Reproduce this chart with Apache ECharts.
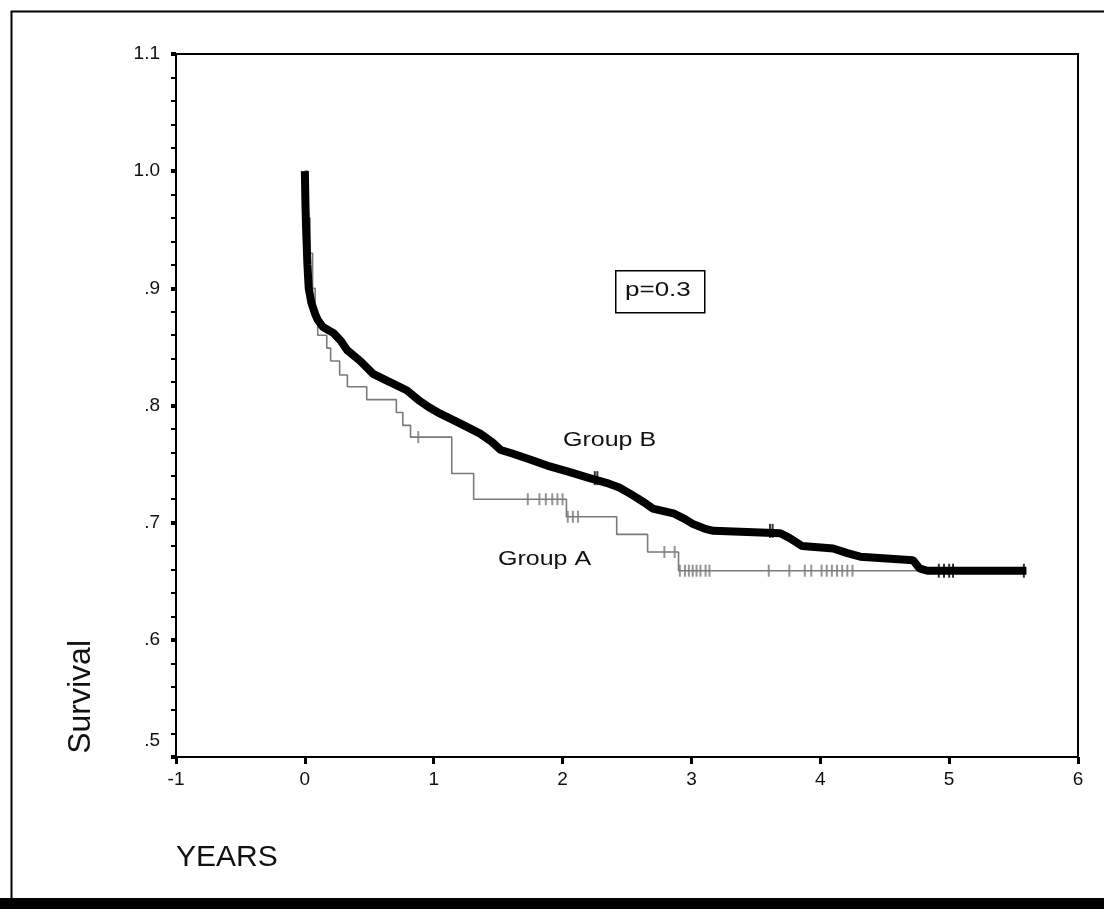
<!DOCTYPE html>
<html>
<head>
<meta charset="utf-8">
<title>Survival</title>
<script src="https://cdn.jsdelivr.net/npm/echarts@6/dist/echarts.min.js"></script>
<style>
  html, body { margin: 0; padding: 0; background: #fff; }
  #main { width: 1104px; height: 909px; }
</style>
</head>
<body>
<div id="main"></div>
<script>
// Group A: thin grey step curve (time in years, survival)
var timeA = [0, 0.02, 0.04, 0.06, 0.08, 0.10, 0.17, 0.20, 0.27, 0.33, 0.48, 0.71, 0.76, 0.82, 1.14, 1.31, 2.03, 2.42, 2.66, 2.90, 4.78];
var survA = [1.0, 0.96, 0.93, 0.90, 0.88, 0.860, 0.849, 0.838, 0.826, 0.816, 0.805, 0.794, 0.783, 0.773, 0.742, 0.720, 0.705, 0.690, 0.675, 0.659, 0.659];
// censored cases, group A
var censorA = [0.88, 1.73, 1.82, 1.87, 1.92, 1.96, 2.00, 2.04, 2.08, 2.12, 2.79, 2.87,
               2.91, 2.95, 2.98, 3.01, 3.04, 3.07, 3.11, 3.14, 3.60, 3.76, 3.88, 3.93,
               4.01, 4.05, 4.09, 4.13, 4.17, 4.21, 4.25];

// Group B: thick black curve (dense steps + censor marks, drawn as a band)
var timeB = [0, 0.005, 0.01, 0.02, 0.03, 0.05, 0.08, 0.10, 0.14, 0.22, 0.28, 0.33, 0.43, 0.53, 0.64, 0.79, 0.89, 0.97,
             1.05, 1.20, 1.36, 1.45, 1.52, 1.61, 1.77, 1.90, 2.03, 2.21, 2.34, 2.44, 2.52, 2.58, 2.65, 2.70, 2.86,
             2.95, 3.01, 3.10, 3.17, 3.69, 3.76, 3.86, 4.10, 4.21, 4.31, 4.72, 4.77, 4.83, 5.60];
var survB = [1.0, 0.97, 0.95, 0.92, 0.90, 0.888, 0.878, 0.873, 0.867, 0.862, 0.855, 0.847, 0.838, 0.827, 0.821, 0.813, 0.804, 0.798,
             0.793, 0.785, 0.776, 0.769, 0.762, 0.759, 0.753, 0.748, 0.744, 0.738, 0.734, 0.730, 0.725, 0.721, 0.716, 0.712, 0.708,
             0.703, 0.699, 0.695, 0.693, 0.691, 0.687, 0.680, 0.678, 0.674, 0.671, 0.668, 0.661, 0.659, 0.659];
var censorB = [2.25, 2.27, 3.61, 3.63, 4.92, 4.96, 5.00, 5.03, 5.58];

function pairs(t, s) {
  var out = [];
  for (var i = 0; i < t.length; i++) out.push([t[i], s[i]]);
  return out;
}
// survival value of a step curve at time x
function stepAt(t, s, x) {
  var v = s[0];
  for (var i = 0; i < t.length; i++) {
    if (t[i] <= x) v = s[i];
  }
  return v;
}
function censorPts(times, t, s) {
  var out = [];
  for (var i = 0; i < times.length; i++) out.push([times[i], stepAt(t, s, times[i])]);
  return out;
}

var myChart = echarts.init(document.getElementById('main'));
var font = 'Liberation Sans, Arial, sans-serif';

myChart.setOption({
  animation: false,
  backgroundColor: '#fff',
  grid: {
    left: 176, right: 26, top: 54, bottom: 152,
    show: true, borderColor: '#000', borderWidth: 2
  },
  xAxis: {
    type: 'value',
    min: -1, max: 6, interval: 1,
    axisLine: { onZero: false, lineStyle: { color: '#000', width: 2 } },
    axisTick: { length: 7, lineStyle: { color: '#000', width: 3 } },
    axisLabel: { color: '#111', fontSize: 19, fontFamily: font, margin: 13 },
    splitLine: { show: false }
  },
  yAxis: {
    type: 'value',
    min: 0.5, max: 1.1, interval: 0.1,
    axisLine: { show: true, onZero: false, lineStyle: { color: '#000', width: 2 } },
    axisTick: { show: true, length: 5, lineStyle: { color: '#000', width: 4 } },
    minorTick: { show: true, splitNumber: 5, length: 5, lineStyle: { color: '#000', width: 2 } },
    axisLabel: {
      color: '#111', fontSize: 19, fontFamily: font, margin: 16,
      formatter: function (v) {
        var s = v.toFixed(1);
        if (v < 0.55) return '{lo|' + s.slice(1) + '}';
        return v < 1 ? s.slice(1) : s;
      },
      rich: {
        lo: { fontSize: 19, fontFamily: font, color: '#111', padding: [0, 0, 32, 0] }
      }
    },
    splitLine: { show: false }
  },
  series: [
    {
      name: 'Group A',
      type: 'line',
      step: 'end',
      data: pairs(timeA, survA),
      symbol: 'none',
      lineStyle: { color: '#7a7a7a', width: 1.6 },
      z: 3
    },
    {
      name: 'Group A censored',
      type: 'scatter',
      data: censorPts(censorA, timeA, survA),
      symbol: 'rect',
      symbolSize: [2, 12],
      itemStyle: { color: '#7a7a7a' },
      z: 3
    },
    {
      name: 'Group B',
      type: 'line',
      data: pairs(timeB, survB),
      symbol: 'none',
      lineStyle: { color: '#000', width: 8 },
      z: 4
    },
    {
      name: 'Group B censored',
      type: 'scatter',
      data: censorPts(censorB, timeB, survB),
      symbol: 'rect',
      symbolSize: [2, 14],
      itemStyle: { color: '#000' },
      z: 4
    }
  ],
  graphic: [
    { type: 'rect', left: 9, top: 9, shape: { width: 1110, height: 888 }, style: { fill: 'none', stroke: '#000', lineWidth: 2 }, silent: true },
    { type: 'rect', left: 0, top: 898, shape: { width: 1104, height: 11 }, style: { fill: '#000' }, silent: true },
    { type: 'rect', left: 615, top: 270, shape: { width: 89, height: 42 }, style: { fill: '#fff', stroke: '#000', lineWidth: 1.5 } },
    { type: 'text', x: 625, y: 280, scaleX: 1.3, style: { text: 'p=0.3', font: '20px ' + font, fill: '#111' } },
    { type: 'text', x: 563, y: 430, scaleX: 1.25, style: { text: 'Group B', font: '20px ' + font, fill: '#111' } },
    { type: 'text', x: 498, y: 549, scaleX: 1.25, style: { text: 'Group A', font: '20px ' + font, fill: '#111' } },
    { type: 'text', left: 176, top: 843, style: { text: 'YEARS', font: '30px ' + font, fill: '#111' } },
    { type: 'text', left: 65, top: 640, rotation: Math.PI / 2, style: { text: 'Survival', font: '32px ' + font, fill: '#111' } }
  ]
});
</script>
</body>
</html>
